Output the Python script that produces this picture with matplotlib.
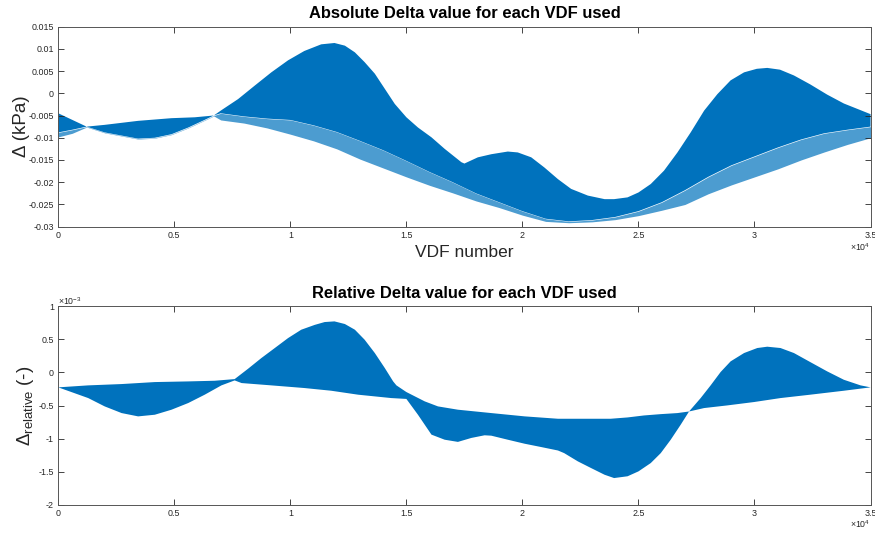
import numpy as np
import matplotlib
matplotlib.use("Agg")
import matplotlib.pyplot as plt

plt.rcParams["font.family"] = ["Liberation Sans", "DejaVu Sans"]
plt.rcParams["mathtext.fontset"] = "custom"
plt.rcParams["mathtext.rm"] = "Liberation Sans"
plt.rcParams["mathtext.it"] = "Liberation Sans:italic"

BLUE = "#0072BD"
GREY = "#262626"

# ---- absolute delta (kPa), x in units of 1e4 VDF ----
abs_up_x = [0, 0.122, 0.2, 0.344, 0.488, 0.588, 0.67, 0.703, 0.775, 0.846, 0.918,
            0.99, 1.06, 1.133, 1.19, 1.235, 1.278, 1.32, 1.364, 1.407, 1.45, 1.5,
            1.55, 1.608, 1.665, 1.737, 1.75, 1.808, 1.866, 1.937, 1.98, 2.038,
            2.095, 2.153, 2.21, 2.282, 2.354, 2.395, 2.453, 2.5, 2.553, 2.61,
            2.668, 2.725, 2.783, 2.84, 2.897, 2.955, 3.01, 3.055, 3.11, 3.17,
            3.24, 3.313, 3.385, 3.457, 3.5]
abs_up_y = [-0.0045, -0.0075, -0.0071, -0.0062, -0.0056, -0.0054, -0.0050, -0.0038,
            -0.0013, 0.0017, 0.0047, 0.0074, 0.0095, 0.0110, 0.0113, 0.0107, 0.0092,
            0.0070, 0.0044, 0.0010, -0.0024, -0.0054, -0.0077, -0.0099, -0.0125,
            -0.0155, -0.0158, -0.0144, -0.0137, -0.0131, -0.0133, -0.0144, -0.0167,
            -0.0193, -0.0215, -0.0230, -0.0238, -0.0238, -0.0234, -0.0223, -0.0204,
            -0.0174, -0.0133, -0.0088, -0.0039, -0.0002, 0.0029, 0.0047, 0.0055,
            0.0057, 0.0053, 0.0040, 0.0020, -0.0003, -0.0023, -0.0038, -0.0047]

abs_lo_x = [0, 0.06, 0.122, 0.2, 0.344, 0.416, 0.488, 0.56, 0.63, 0.67, 0.7, 0.8,
            0.9, 1.0, 1.1, 1.2, 1.3, 1.4, 1.5, 1.6, 1.7, 1.8, 1.9, 2.0, 2.1, 2.2,
            2.3, 2.4, 2.5, 2.6, 2.7, 2.8, 2.9, 3.0, 3.1, 3.2, 3.3, 3.4, 3.5]
abs_lo_body = [-0.0088, -0.0082, -0.0075, -0.0088, -0.0102, -0.0100, -0.0092, -0.0077,
               -0.0060, -0.0050, -0.0045, -0.0052, -0.0057, -0.0060, -0.0072, -0.0087,
               -0.0107, -0.0128, -0.0152, -0.0177, -0.0200, -0.0225, -0.0245, -0.0265,
               -0.0282, -0.0288, -0.0285, -0.0278, -0.0265, -0.0245, -0.0218, -0.0188,
               -0.0162, -0.0142, -0.0122, -0.0104, -0.0090, -0.0082, -0.0075]
abs_lo_tip = [-0.0098, -0.0090, -0.0076, -0.0089, -0.0103, -0.0101, -0.0093, -0.0078,
              -0.0061, -0.0051, -0.0060, -0.0067, -0.0078, -0.0092, -0.0107, -0.0125,
              -0.0148, -0.0168, -0.0188, -0.0207, -0.0224, -0.0242, -0.0257, -0.0274,
              -0.0288, -0.0291, -0.0289, -0.0284, -0.0275, -0.0263, -0.0250, -0.0226,
              -0.0206, -0.0188, -0.0170, -0.0150, -0.0132, -0.0115, -0.0100]

# ---- relative delta (x1e-3) ----
rel_up_x = [0, 0.129, 0.273, 0.416, 0.56, 0.674, 0.76, 0.818, 0.875, 0.933, 0.99,
            1.047, 1.105, 1.148, 1.19, 1.235, 1.278, 1.32, 1.364, 1.407, 1.443,
            1.457, 1.5, 1.579, 1.636, 1.722, 1.866, 2.01, 2.153, 2.296, 2.38,
            2.453, 2.524, 2.596, 2.668, 2.718, 2.768, 2.811, 2.854, 2.897, 2.955,
            3.012, 3.055, 3.112, 3.17, 3.24, 3.313, 3.385, 3.457, 3.5]
rel_up_y = [-0.225, -0.195, -0.175, -0.145, -0.135, -0.125, -0.10, 0.057, 0.218,
            0.37, 0.52, 0.647, 0.72, 0.763, 0.773, 0.733, 0.647, 0.496, 0.294,
            0.067, -0.135, -0.195, -0.296, -0.437, -0.513, -0.563, -0.614, -0.664,
            -0.70, -0.70, -0.70, -0.68, -0.65, -0.63, -0.614, -0.59, -0.387,
            -0.195, 0.007, 0.168, 0.294, 0.37, 0.39, 0.37, 0.294, 0.158, 0.017,
            -0.11, -0.195, -0.225]

rel_lo_x = [0, 0.129, 0.2, 0.273, 0.344, 0.416, 0.488, 0.56, 0.631, 0.703, 0.76,
            0.79, 0.918, 1.06, 1.176, 1.292, 1.435, 1.5, 1.55, 1.608, 1.665,
            1.722, 1.78, 1.837, 1.866, 1.937, 2.01, 2.081, 2.153, 2.18, 2.239,
            2.296, 2.354, 2.395, 2.453, 2.5, 2.553, 2.596, 2.639, 2.682, 2.718,
            2.783, 2.883, 2.998, 3.112, 3.24, 3.385, 3.5]
rel_lo_y = [-0.225, -0.387, -0.513, -0.614, -0.664, -0.639, -0.563, -0.462, -0.336,
            -0.195, -0.12, -0.16, -0.195, -0.235, -0.276, -0.336, -0.387, -0.40,
            -0.64, -0.94, -1.017, -1.05, -0.99, -0.95, -0.956, -1.017, -1.078,
            -1.128, -1.18, -1.22, -1.345, -1.446, -1.547, -1.597, -1.57, -1.496,
            -1.37, -1.22, -1.017, -0.79, -0.59, -0.538, -0.498, -0.447, -0.387,
            -0.336, -0.276, -0.225]


def band(ax, ux, uy, lx, ly, **kw):
    ax.fill(np.r_[ux, lx[::-1]], np.r_[uy, ly[::-1]], lw=0, **kw)


def style(ax, yticks, ylabels):
    ax.set_xlim(0, 3.5)
    ax.set_xticks([0, 0.5, 1, 1.5, 2, 2.5, 3, 3.5])
    ax.set_xticklabels(["0", "0.5", "1", "1.5", "2", "2.5", "3", "3.5"])
    ax.set_yticks(yticks)
    ax.set_yticklabels(ylabels)
    ax.tick_params(direction="in", length=4, width=0.6, color=GREY,
                   labelsize=6.4, labelcolor=GREY, top=True, right=True, pad=3)
    for s in ax.spines.values():
        s.set_color("#555555")
        s.set_linewidth(0.7)


fig = plt.figure(figsize=(8.75, 5.36), dpi=100)

ax1 = fig.add_axes([0.0666, 0.577, 0.9283, 0.3735])
band(ax1, np.array(abs_up_x), np.array(abs_up_y),
     np.array(abs_lo_x), np.array(abs_lo_body), color=BLUE)
ax1.fill_between(abs_lo_x, abs_lo_body, abs_lo_tip, color=BLUE, alpha=0.7, lw=0)
ax1.set_ylim(-0.03, 0.015)
style(ax1, [-0.03, -0.025, -0.02, -0.015, -0.01, -0.005, 0, 0.005, 0.01, 0.015],
      ["-0.03", "-0.025", "-0.02", "-0.015", "-0.01", "-0.005", "0", "0.005", "0.01", "0.015"])
ax1.set_title("Absolute Delta value for each VDF used", fontsize=11.9,
              fontweight="bold", pad=6)
ax1.set_xlabel("VDF number", fontsize=12.5, color=GREY, labelpad=4)
ax1.set_ylabel("Δ (kPa)", fontsize=13.5, color=GREY)
ax1.yaxis.set_label_coords(-0.035, 0.5)
ax1.text(1.0, -0.1, r"$\times10^{4}$", transform=ax1.transAxes,
         ha="right", va="center", fontsize=6.3, color=GREY)

ax2 = fig.add_axes([0.0666, 0.0584, 0.9283, 0.370])
band(ax2, np.array(rel_up_x), np.array(rel_up_y),
     np.array(rel_lo_x), np.array(rel_lo_y), color=BLUE)
ax2.set_ylim(-2, 1)
style(ax2, [-2, -1.5, -1, -0.5, 0, 0.5, 1],
      ["-2", "-1.5", "-1", "-0.5", "0", "0.5", "1"])
ax2.set_title("Relative Delta value for each VDF used", fontsize=11.9,
              fontweight="bold", pad=6)
ax2.set_ylabel(r"$\Delta_{\mathrm{relative}}$ (-)", fontsize=13.5, color=GREY)
ax2.yaxis.set_label_coords(-0.027, 0.5)
ax2.text(0.0, 1.025, r"$\times10^{-3}$", transform=ax2.transAxes,
         ha="left", va="center", fontsize=6.3, color=GREY)
ax2.text(1.0, -0.1, r"$\times10^{4}$", transform=ax2.transAxes,
         ha="right", va="center", fontsize=6.3, color=GREY)

fig.savefig("out.png", dpi=100)
